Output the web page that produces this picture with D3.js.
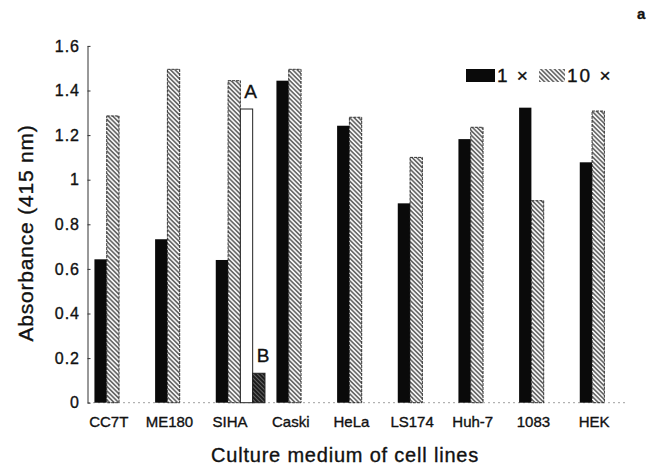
<!DOCTYPE html>
<html>
<head>
<meta charset="utf-8">
<script src="https://cdn.jsdelivr.net/npm/d3@7"></script>
<style>
  body { margin: 0; background: #fff; }
  text { font-family: "Liberation Sans", Arial, sans-serif; fill: #111; stroke: #111; stroke-width: 0.35px; }
  .axis path, .axis line { stroke: #333; }
</style>
</head>
<body>
<div id="chart"></div>
<script>
const cellLines = ["CC7T", "ME180", "SIHA", "Caski", "HeLa", "LS174", "Huh-7", "1083", "HEK"];
const oneX = [0.643, 0.733, 0.64, 1.444, 1.242, 0.894, 1.182, 1.323, 1.078];
const tenX = [1.286, 1.495, 1.444, 1.495, 1.28, 1.10, 1.235, 0.906, 1.308];
const extraLabels = ["A", "B"];
const extraValues = [1.317, 0.132];
const yTicks = [0, 0.2, 0.4, 0.6, 0.8, 1, 1.2, 1.4, 1.6];
const seriesNames = ["1 ×", "10 ×"];

const width = 659, height = 470;
const barW = 12.3;

const svg = d3.select("#chart").append("svg")
  .attr("width", width)
  .attr("height", height);

const defs = svg.append("defs");
const hatch = defs.append("pattern")
  .attr("id", "hatch")
  .attr("patternUnits", "userSpaceOnUse")
  .attr("width", 3.2).attr("height", 3.2)
  .attr("patternTransform", "rotate(-45)");
hatch.append("rect").attr("width", 3.2).attr("height", 3.2).attr("fill", "#f4f4f4");
hatch.append("line").attr("x1", 0.8).attr("y1", 0).attr("x2", 0.8).attr("y2", 3.2)
  .attr("stroke", "#2a2a2a").attr("stroke-width", 1.1);

const dark = defs.append("pattern")
  .attr("id", "dark")
  .attr("patternUnits", "userSpaceOnUse")
  .attr("width", 3).attr("height", 3)
  .attr("patternTransform", "rotate(-45)");
dark.append("rect").attr("width", 3).attr("height", 3).attr("fill", "#1c1c1c");
dark.append("line").attr("x1", 1.5).attr("y1", 0).attr("x2", 1.5).attr("y2", 3)
  .attr("stroke", "#777").attr("stroke-width", 0.8);

const xScale = d3.scaleBand().domain(cellLines).range([76.4, 622.4]);
const yScale = d3.scaleLinear().domain([0, 1.6]).range([402.7, 45.9]);
const cx = d => xScale(d) + xScale.bandwidth() / 2;

// baseline (dotted)
svg.append("line")
  .attr("x1", 88).attr("x2", 628)
  .attr("y1", yScale(0)).attr("y2", yScale(0))
  .attr("stroke", "#888").attr("stroke-width", 0.8)
  .attr("stroke-dasharray", "2,3");

// y axis
svg.append("g").attr("class", "axis")
  .attr("transform", "translate(87.5,0)")
  .call(d3.axisLeft(yScale).tickValues(yTicks).tickFormat(d3.format("~g"))
    .tickSizeInner(-3).tickSizeOuter(0).tickPadding(7.5))
  .call(g => g.selectAll("text").style("font-size", "16px").style("letter-spacing", "1px"));

// x labels
svg.append("g").attr("class", "axis")
  .attr("transform", `translate(0,${yScale(0)})`)
  .call(d3.axisBottom(xScale).tickSize(0).tickPadding(13.6))
  .call(g => g.select(".domain").remove())
  .call(g => g.selectAll("text").style("font-size", "15px").attr("dx", "2"));

// bars 1x
svg.selectAll(".bar1")
  .data(cellLines)
  .enter()
    .append("rect")
    .attr("class", "bar1")
    .attr("x", d => cx(d) - barW)
    .attr("y", (d, i) => yScale(oneX[i]))
    .attr("width", barW)
    .attr("height", (d, i) => yScale(0) - yScale(oneX[i]))
    .attr("fill", "#0a0a0a");

// bars 10x
svg.selectAll(".bar10")
  .data(cellLines)
  .enter()
    .append("rect")
    .attr("class", "bar10")
    .attr("x", d => cx(d))
    .attr("y", (d, i) => yScale(tenX[i]))
    .attr("width", barW)
    .attr("height", (d, i) => yScale(0) - yScale(tenX[i]))
    .attr("fill", "url(#hatch)")
    .attr("stroke", "#222")
    .attr("stroke-width", 0.9)
    .attr("stroke-dasharray", "3,1");

// extra bars A and B after SIHA
const extraX = i => cx("SIHA") + barW * (i + 1);
svg.selectAll(".extra")
  .data(extraValues)
  .enter()
    .append("rect")
    .attr("class", "extra")
    .attr("x", (d, i) => extraX(i))
    .attr("y", d => yScale(d))
    .attr("width", barW)
    .attr("height", d => yScale(0) - yScale(d))
    .attr("fill", (d, i) => i === 0 ? "#fff" : "url(#dark)")
    .attr("stroke", "#222")
    .attr("stroke-width", 1);

svg.selectAll(".extra-label")
  .data(extraLabels)
  .enter()
    .append("text")
    .attr("class", "extra-label")
    .attr("x", (d, i) => extraX(i) + 4)
    .attr("y", (d, i) => yScale(extraValues[i]) - 11)
    .style("font-size", "19px")
    .text(d => d);

// legend
const legend = svg.append("g");
const legX = [466, 539];
const legTextX = [497, 567];
legend.selectAll("rect")
  .data(seriesNames)
  .enter()
    .append("rect")
    .attr("x", (d, i) => legX[i])
    .attr("y", 69)
    .attr("width", (d, i) => i === 0 ? 29 : 26)
    .attr("height", 13)
    .attr("fill", (d, i) => i === 0 ? "#0a0a0a" : "url(#hatch)");
legend.selectAll("text")
  .data(seriesNames)
  .enter()
    .append("text")
    .attr("x", (d, i) => legTextX[i])
    .attr("y", 82)
    .style("font-size", "19px")
    .style("letter-spacing", "2px")
    .text(d => d);

// axis titles
svg.append("text")
  .attr("transform", "rotate(-90)")
  .attr("x", -233)
  .attr("y", 33)
  .attr("text-anchor", "middle")
  .style("font-size", "21px")
  .style("letter-spacing", "0.8px")
  .text("Absorbance (415 nm)");

svg.append("text")
  .attr("x", 345)
  .attr("y", 461.7)
  .attr("text-anchor", "middle")
  .style("font-size", "20px")
  .style("letter-spacing", "0.8px")
  .text("Culture medium of cell lines");

svg.append("text")
  .attr("x", 637)
  .attr("y", 18.5)
  .style("font-size", "15px")
  .style("font-weight", "bold")
  .text("a");
</script>
</body>
</html>
